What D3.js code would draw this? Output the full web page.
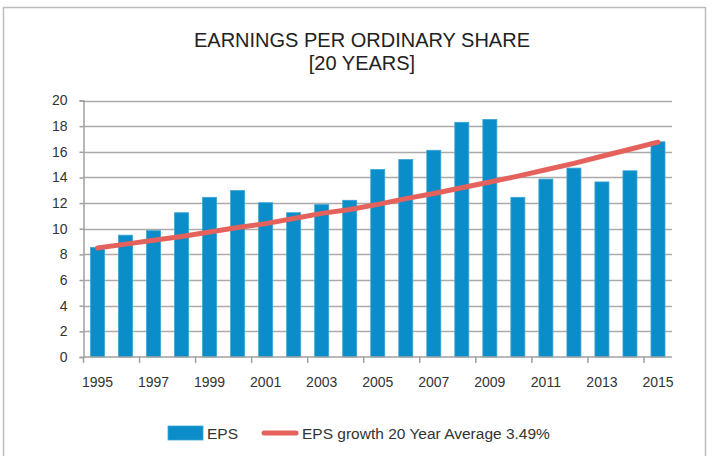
<!DOCTYPE html>
<html>
<head>
<meta charset="utf-8">
<script src="https://cdn.jsdelivr.net/npm/d3@7"></script>
<style>
body { margin: 0; background: #fff; }
svg { font-family: "Liberation Sans", Arial, sans-serif; }
</style>
</head>
<body>
<svg id="chart"></svg>
<script>
var width = 712;
var height = 456;

var years = [1995, 1996, 1997, 1998, 1999, 2000, 2001, 2002, 2003, 2004, 2005,
             2006, 2007, 2008, 2009, 2010, 2011, 2012, 2013, 2014, 2015];
var eps = [8.55, 9.5, 9.85, 11.25, 12.45, 12.98, 12.03, 11.25, 11.88, 12.22, 14.62,
           15.4, 16.12, 18.3, 18.52, 12.45, 13.87, 14.73, 13.65, 14.52, 16.78];
var growth = [8.5, 8.8, 9.1, 9.4, 9.75, 10.1, 10.4, 10.8, 11.2, 11.5, 11.9,
              12.35, 12.75, 13.2, 13.65, 14.1, 14.6, 15.1, 15.65, 16.2, 16.75];
var yTicks = [0, 2, 4, 6, 8, 10, 12, 14, 16, 18, 20];

var margin = {top: 100.5, left: 83.5, right: 40, bottom: 99};

var svg = d3.select('#chart')
    .attr('width', width)
    .attr('height', height)

// outer frame
svg.append('rect')
    .attr('x', 3.5).attr('y', 7.5)
    .attr('width', 702).attr('height', 470)
    .attr('fill', 'none')
    .attr('stroke', '#bdbdbd')
    .attr('stroke-width', 1.5)

var x = d3.scaleBand()
    .domain(years)
    .range([margin.left, width - margin.right])
    .paddingInner(0.5)
    .paddingOuter(0.25)

var y = d3.scaleLinear()
    .domain([0, 20])
    .range([height - margin.bottom, margin.top])

// gridlines
svg.append('g')
    .selectAll('line')
    .data(yTicks.slice(1))
    .enter()
    .append('line')
    .attr('x1', margin.left)
    .attr('x2', width - margin.right)
    .attr('y1', function(d){ return Math.round(y(d)) + 0.5; })
    .attr('y2', function(d){ return Math.round(y(d)) + 0.5; })
    .style('stroke', '#ababab')
    .style('stroke-width', 1.5)

// y axis
var yAxis = svg.append('g')
    .attr('transform', 'translate(' + margin.left + ',0)')
    .call(d3.axisLeft(y).tickValues(yTicks).tickSize(4).tickPadding(12))
yAxis.select('.domain').style('stroke', '#a0a0a0').style('stroke-width', 1.5)
yAxis.selectAll('.tick line').style('stroke', '#a0a0a0').style('stroke-width', 1.5)
yAxis.selectAll('text').style('font-size', '14px').style('fill', '#333')

// bars
svg.append('g')
    .selectAll('rect')
    .data(eps)
    .enter()
    .append('rect')
    .attr('x', function(d, i){ return x(years[i]); })
    .attr('width', x.bandwidth())
    .attr('y', function(d){ return y(d); })
    .attr('height', function(d){ return y(0) - y(d); })
    .style('fill', '#0b8dc9')
    .style('stroke', '#3aa6d8')
    .style('stroke-width', 0.8)

// x axis
var step = x.step();
var x0 = x.range()[0];
var xAxis = svg.append('g')
    .attr('transform', 'translate(0,' + y(0) + ')')
xAxis.append('line')
    .attr('x1', margin.left).attr('x2', width - margin.right)
    .style('stroke', '#a0a0a0').style('stroke-width', 1.5)
xAxis.selectAll('.xtick')
    .data(d3.range(0, years.length, 2))
    .enter()
    .append('line')
    .attr('x1', function(i){ return x0 + i * step; })
    .attr('x2', function(i){ return x0 + i * step; })
    .attr('y1', 0).attr('y2', 6)
    .style('stroke', '#a0a0a0').style('stroke-width', 1.5)
xAxis.selectAll('.xlabel')
    .data(years.filter(function(d, i){ return i % 2 == 0; }))
    .enter()
    .append('text')
    .attr('x', function(d){ return x(d) + x.bandwidth() / 2; })
    .attr('y', 30)
    .attr('text-anchor', 'middle')
    .style('font-size', '14px')
    .style('fill', '#333')
    .text(function(d){ return d; })

// growth line
var line = d3.line()
    .x(function(d, i){ return x(years[i]) + x.bandwidth() / 2; })
    .y(function(d){ return y(d); })

svg.append('path')
    .datum(growth)
    .attr('d', line)
    .style('fill', 'none')
    .style('stroke', '#e5625c')
    .style('stroke-width', 5)
    .style('stroke-linecap', 'round')
    .style('stroke-linejoin', 'round')

// title
svg.append('text')
    .attr('x', 362).attr('y', 47)
    .attr('text-anchor', 'middle')
    .style('font-size', '20px')
    .style('fill', '#222')
    .text('EARNINGS PER ORDINARY SHARE')
svg.append('text')
    .attr('x', 362).attr('y', 70)
    .attr('text-anchor', 'middle')
    .style('font-size', '20px')
    .style('fill', '#222')
    .text('[20 YEARS]')

// legend
var legend = svg.append('g')
legend.append('rect')
    .attr('x', 168).attr('y', 426)
    .attr('width', 35).attr('height', 14)
    .style('fill', '#0b8dc9')
    .style('stroke', '#3aa6d8')
    .style('stroke-width', 0.8)
legend.append('text')
    .attr('x', 207).attr('y', 439)
    .style('font-size', '15.5px').style('fill', '#333')
    .text('EPS')
legend.append('line')
    .attr('x1', 264).attr('x2', 296)
    .attr('y1', 433).attr('y2', 433)
    .style('stroke', '#e5625c')
    .style('stroke-width', 5)
    .style('stroke-linecap', 'round')
legend.append('text')
    .attr('x', 302).attr('y', 439)
    .style('font-size', '15.5px').style('fill', '#333')
    .text('EPS growth 20 Year Average 3.49%')
</script>
</body>
</html>
